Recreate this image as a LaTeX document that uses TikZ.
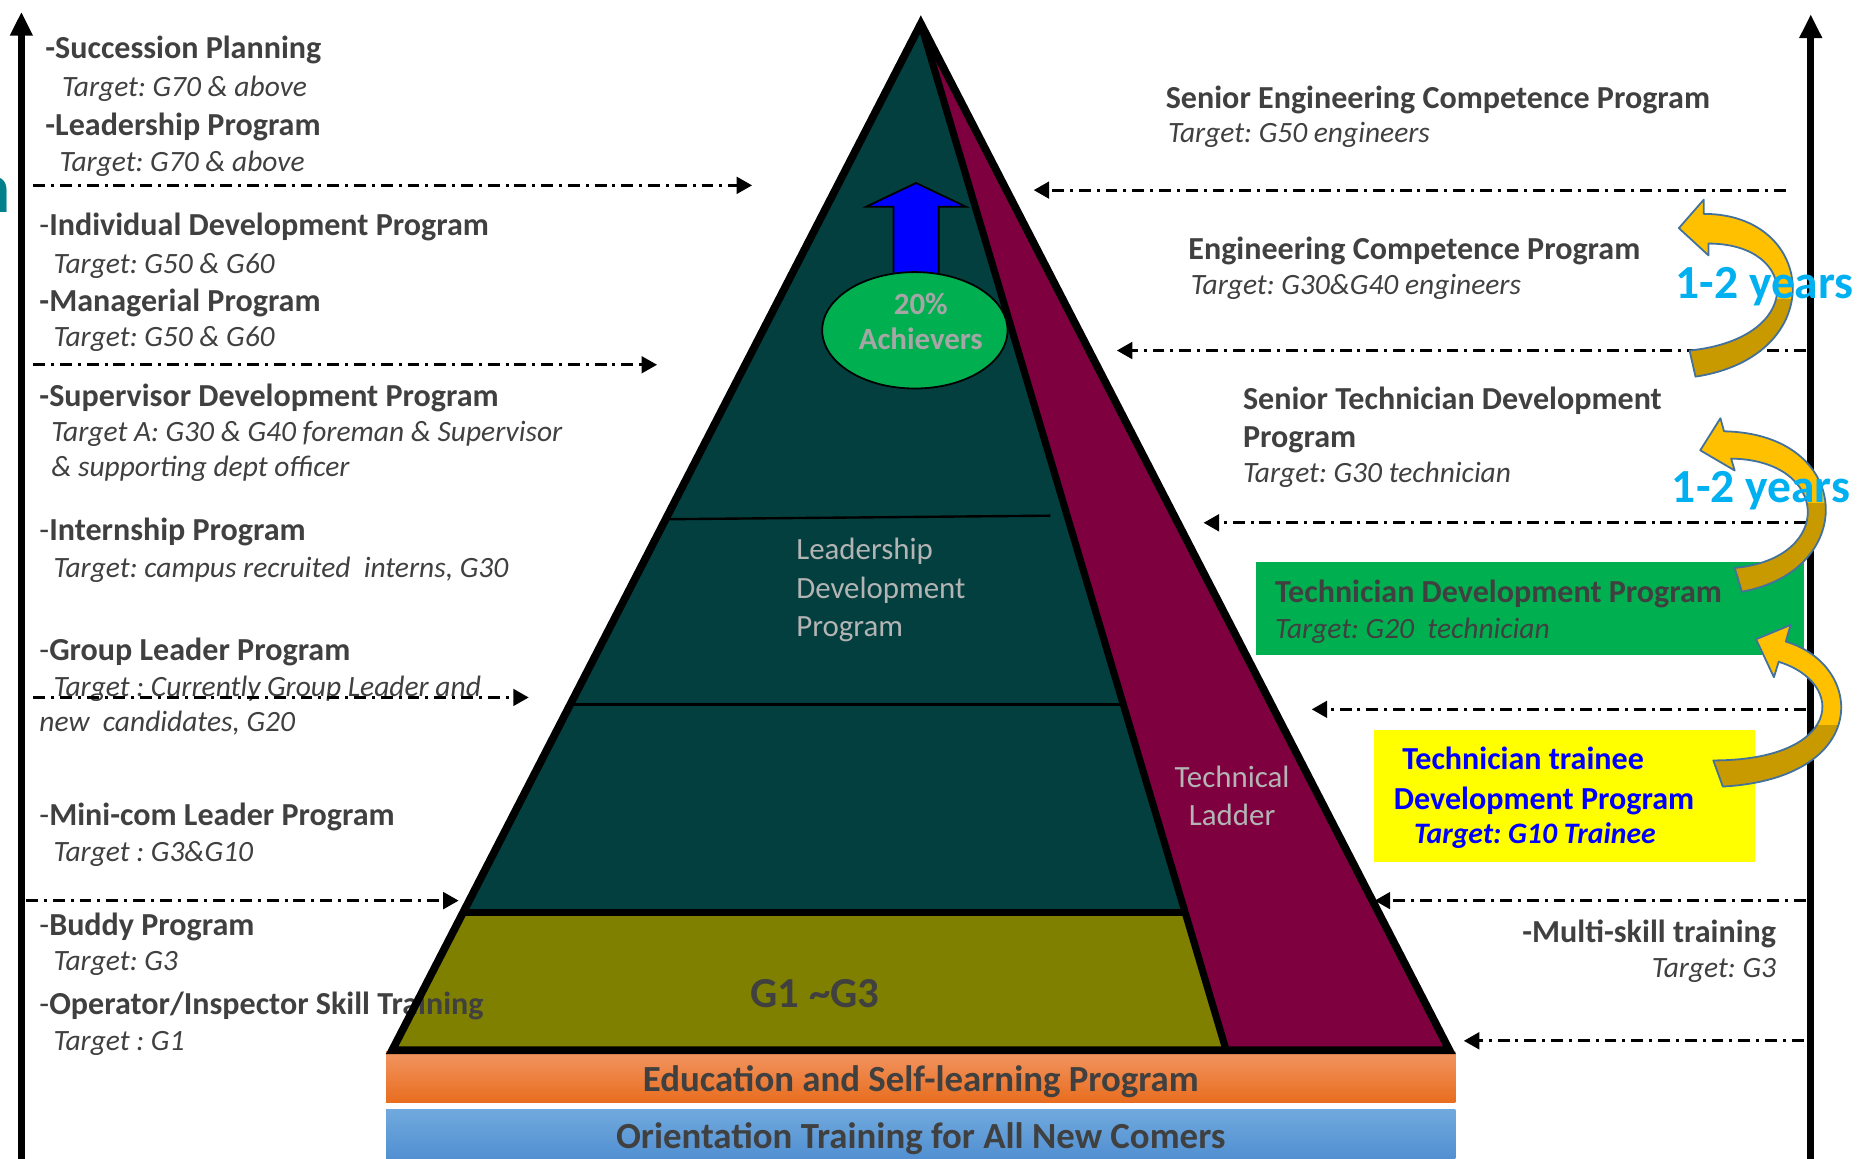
\documentclass[tikz,border=0pt]{standalone}
\usepackage{fontspec}
\setmainfont{Carlito}
\usetikzlibrary{arrows.meta,shapes.geometric}
\definecolor{txt}{HTML}{404040}
\definecolor{pteal}{HTML}{033F3F}
\definecolor{pmaroon}{HTML}{7F003F}
\definecolor{polive}{HTML}{808000}
\definecolor{gbox}{HTML}{00B050}
\definecolor{ybox}{HTML}{FFFF00}
\definecolor{btxt}{HTML}{0000FF}
\definecolor{cyantxt}{HTML}{00B0F0}
\definecolor{gold}{HTML}{FFC000}
\definecolor{dgold}{HTML}{C99A00}
\definecolor{outl}{HTML}{41719C}
\definecolor{ltgray}{HTML}{B4B4B4}
\definecolor{achgray}{HTML}{A6A6A6}
\definecolor{tealn}{HTML}{00808A}
\definecolor{orTop}{HTML}{F29562}
\definecolor{orBot}{HTML}{E86D1E}
\definecolor{blTop}{HTML}{70A9DD}
\definecolor{blBot}{HTML}{4A89CF}
\frenchspacing
\begin{document}
\begin{tikzpicture}[x=1pt,y=1pt,
  hd/.style={anchor=base west, inner sep=0pt, text=txt, font=\bfseries\fontsize{27}{30}\selectfont},
  tg/.style={anchor=base west, inner sep=0pt, text=txt, font=\itshape\fontsize{24.8}{28}\selectfont},
  ptxt/.style={anchor=base west, inner sep=0pt, text=ltgray, font=\fontsize{26}{30}\selectfont},
  bartxt/.style={anchor=base, inner sep=0pt, text=txt, font=\bfseries\fontsize{31}{34}\selectfont},
  yrs/.style={anchor=base west, inner sep=0pt, text=cyantxt, font=\bfseries\fontsize{40}{44}\selectfont},
  dd/.style={line width=2.5pt, dash pattern=on 10pt off 5pt on 2.5pt off 5pt, -{Triangle[length=13pt,width=14pt]}},
  axisarrow/.style={line width=5.5pt, -{Triangle[length=20pt,width=18pt]}},
  curvarrow/.style={draw=outl, line width=1.5pt, line join=round}
]
\useasboundingbox (0,0) rectangle (1568,-975);

% clipped title fragment at the left edge
\node[anchor=base east, inner sep=0pt, text=tealn, font=\bfseries\fontsize{60}{64}\selectfont] (frag) at (9,-179) {n};

% vertical axes
\coordinate (lb) at (18,-985); \coordinate (lt) at (18,-10);
\coordinate (rb) at (1524,-985); \coordinate (rt) at (1524,-12);
\draw[axisarrow] (lb) -- (lt);
\draw[axisarrow] (rb) -- (rt);

% pyramid fills
\coordinate (A) at (775,-20);
\coordinate (BL) at (330,-884);
\coordinate (BR) at (1220,-884);
\coordinate (BD) at (1032,-884);
\coordinate (OL) at (389.7,-768);
\coordinate (OR) at (997.5,-768);
\fill[pteal] (A) -- (OL) -- (OR) -- cycle;
\fill[polive] (OL) -- (BL) -- (BD) -- (OR) -- cycle;
\fill[pmaroon] (A) -- (BD) -- (BR) -- cycle;
\coordinate (h1l) at (562,-437); \coordinate (h1r) at (884,-434);
\coordinate (h2l) at (481,-593); \coordinate (h2r) at (945,-593);
\draw[line width=2pt] (h1l) -- (h1r);
\draw[line width=2pt] (h2l) -- (h2r);

% bottom bars
\shade[top color=orTop, bottom color=orBot] (325,-885) rectangle (1225,-928);
\shade[top color=blTop, bottom color=blBot] (325,-934) rectangle (1225,-985);
\node[bartxt] (edu) at (775,-919) {Education and Self-learning Program};
\node[bartxt] (ori) at (775,-967) {Orientation Training for All New Comers};

% left texts
\node[hd] (l1) at (38,-49) {-Succession Planning};
\node[tg] (l1t) at (52,-81) {Target: G70 \& above};
\node[hd] (l2) at (38,-114) {-Leadership Program};
\node[tg] (l2t) at (50,-144) {Target: G70 \& above};
\node[hd] (l3) at (33,-198) {{\mdseries -}Individual Development Program};
\node[tg] (l3t) at (45,-230) {Target: G50 \& G60};
\node[hd] (l4) at (33,-262) {-Managerial Program};
\node[tg] (l4t) at (45,-292) {Target: G50 \& G60};
\node[hd] (l5) at (33,-342) {-Supervisor Development Program};
\node[tg] (l5t) at (43,-372) {Target A: G30 \& G40 foreman \& Supervisor};
\node[tg] (l5u) at (43,-401) {\& supporting dept officer};
\node[hd] (l6) at (33,-455) {{\mdseries -}Internship Program};
\node[tg] (l6t) at (45,-486) {Target: campus recruited\ \ interns, G30};
\node[hd] (l7) at (33,-556) {{\mdseries -}Group Leader Program};
\node[tg] (l7t) at (45,-586) {Target : Currently Group Leader and};
\node[tg] (l7u) at (33,-616) {new\ \ candidates, G20};
\node[hd] (l8) at (33,-695) {{\mdseries -}Mini-com Leader Program};
\node[tg] (l8t) at (45,-725) {Target : G3\&G10};
\node[hd] (l9) at (33,-787) {{\mdseries -}Buddy Program};
\node[tg] (l9t) at (45,-817) {Target: G3};
\node[hd] (l10) at (33,-854) {{\mdseries -}Operator/Inspector Skill Training};
\node[tg] (l10t) at (45,-884) {Target : G1};

% pyramid borders
\draw[line width=6.5pt, line join=miter] (A) -- (BL) -- (BR) -- cycle;
\draw[line width=6pt] (A) -- (BD);
\draw[line width=6pt] (OL) -- (OR);

% pyramid texts
\node[ptxt] (ld1) at (670,-471) {Leadership};
\node[ptxt] (ld2) at (670,-504) {Development};
\node[ptxt] (ld3) at (670,-536) {Program};
\node[ptxt, anchor=base] (tl1) at (1037,-663) {Technical};
\node[ptxt, anchor=base] (tl2) at (1037,-695) {Ladder};
\node[anchor=base, inner sep=0pt, text=txt, font=\bfseries\fontsize{36}{40}\selectfont] (g13) at (686,-848) {G1 \textasciitilde G3};

% blue arrow and achievers ellipse
\draw[fill=btxt, line width=1.5pt, line join=miter] (752,-240) -- (752,-174) -- (729,-174) -- (771,-154) -- (813,-174) -- (790,-174) -- (790,-240) -- cycle;
\node[ellipse, draw, line width=1.5pt, fill=gbox, minimum width=156pt, minimum height=98pt, inner sep=0pt] (ach) at (770,-278) {};
\node[anchor=base, inner sep=0pt, text=achgray, font=\bfseries\fontsize{26}{30}\selectfont] (ach1) at (775,-265) {20\%};
\node[anchor=base, inner sep=0pt, text=achgray, font=\bfseries\fontsize{26}{30}\selectfont] (ach2) at (775,-294) {Achievers};

% right texts
\node[hd] (r1) at (981,-91) {Senior Engineering Competence Program};
\node[tg] (r1t) at (983,-120) {Target: G50 engineers};
\node[hd] (r2) at (1000,-218) {Engineering Competence Program};
\node[tg] (r2t) at (1002,-248) {Target: G30\&G40 engineers};
\node[hd] (r3) at (1046,-345) {Senior Technician Development};
\node[hd] (r3b) at (1046,-377) {Program};
\node[tg] (r3t) at (1046,-406) {Target: G30 technician};

\node[fill=gbox, inner sep=0pt, minimum width=461pt, minimum height=78pt, anchor=north west] (gb) at (1057,-473) {};
\node[hd] (r4) at (1073,-507) {Technician Development Program};
\node[tg] (r4t) at (1073,-537) {Target: G20\ \ technician};

\node[fill=ybox, inner sep=0pt, minimum width=321pt, minimum height=111pt, anchor=north west] (yb) at (1156,-614) {};
\node[hd, text=btxt] (r5) at (1180,-648) {Technician trainee};
\node[hd, text=btxt] (r5b) at (1173,-681) {Development Program};
\node[hd, text=btxt, font=\bfseries\itshape\fontsize{25}{30}\selectfont] (r5t) at (1190,-710) {Target: G10 Trainee};

\node[hd, anchor=base east] (r6) at (1495,-793) {-Multi-skill training};
\node[tg, anchor=base east] (r6t) at (1495,-823) {Target: G3};

% dash-dot arrows, left
\coordinate (a1s) at (28,-156); \coordinate (a1e) at (633,-156);
\coordinate (a2s) at (28,-307); \coordinate (a2e) at (553,-307);
\coordinate (a3s) at (28,-587); \coordinate (a3e) at (445,-587);
\coordinate (a4s) at (22,-758); \coordinate (a4e) at (386,-758);
\draw[dd] (a1s) -- (a1e);
\draw[dd] (a2s) -- (a2e);
\draw[dd] (a3s) -- (a3e);
\draw[dd] (a4s) -- (a4e);
% dash-dot arrows, right
\coordinate (b1s) at (1503,-160); \coordinate (b1e) at (870,-160);
\coordinate (b2s) at (1520,-295); \coordinate (b2e) at (940,-295);
\coordinate (b3s) at (1520,-440); \coordinate (b3e) at (1013,-440);
\coordinate (b4s) at (1520,-597); \coordinate (b4e) at (1104,-597);
\coordinate (b5s) at (1520,-758); \coordinate (b5e) at (1157,-758);
\coordinate (b6s) at (1518,-876); \coordinate (b6e) at (1232,-876);
\draw[dd] (b1s) -- (b1e);
\draw[dd] (b2s) -- (b2e);
\draw[dd] (b3s) -- (b3e);
\draw[dd] (b4s) -- (b4e);
\draw[dd] (b5s) -- (b5e);
\draw[dd] (b6s) -- (b6e);

% curved block arrows
\draw[curvarrow, path picture={\fill[gold] (1380,-150) rectangle (1580,-252); \fill[dgold] (1380,-252) rectangle (1580,-340);}]
  (1427,-317) .. controls (1540,-300) and (1530,-180) .. (1434,-180) -- (1434,-168) -- (1413,-192) -- (1438,-215) -- (1438,-205) .. controls (1515,-205) and (1520,-285) .. (1422,-295) -- cycle;
\draw[curvarrow, path picture={\fill[gold] (1400,-330) rectangle (1590,-423); \fill[dgold] (1400,-423) rectangle (1590,-520);}]
  (1466,-498) .. controls (1565,-480) and (1560,-365) .. (1451,-363) -- (1448,-352) -- (1431,-379) -- (1460,-396) -- (1457,-386) .. controls (1540,-387) and (1545,-470) .. (1460,-478) -- cycle;
\draw[curvarrow, path picture={\fill[gold] (1420,-500) rectangle (1600,-610); \fill[dgold] (1420,-610) rectangle (1600,-690);}]
  (1450,-662) .. controls (1575,-655) and (1570,-560) .. (1503,-540) -- (1507,-526) -- (1478,-538) -- (1493,-570) -- (1497,-557) .. controls (1555,-575) and (1550,-640) .. (1442,-640) -- cycle;

% 1-2 years labels (on top of the arrows)
\node[yrs] (y1) at (1410,-251) {1-2 years};
\node[yrs] (y2) at (1407,-423) {1-2 years};
\end{tikzpicture}
\end{document}
